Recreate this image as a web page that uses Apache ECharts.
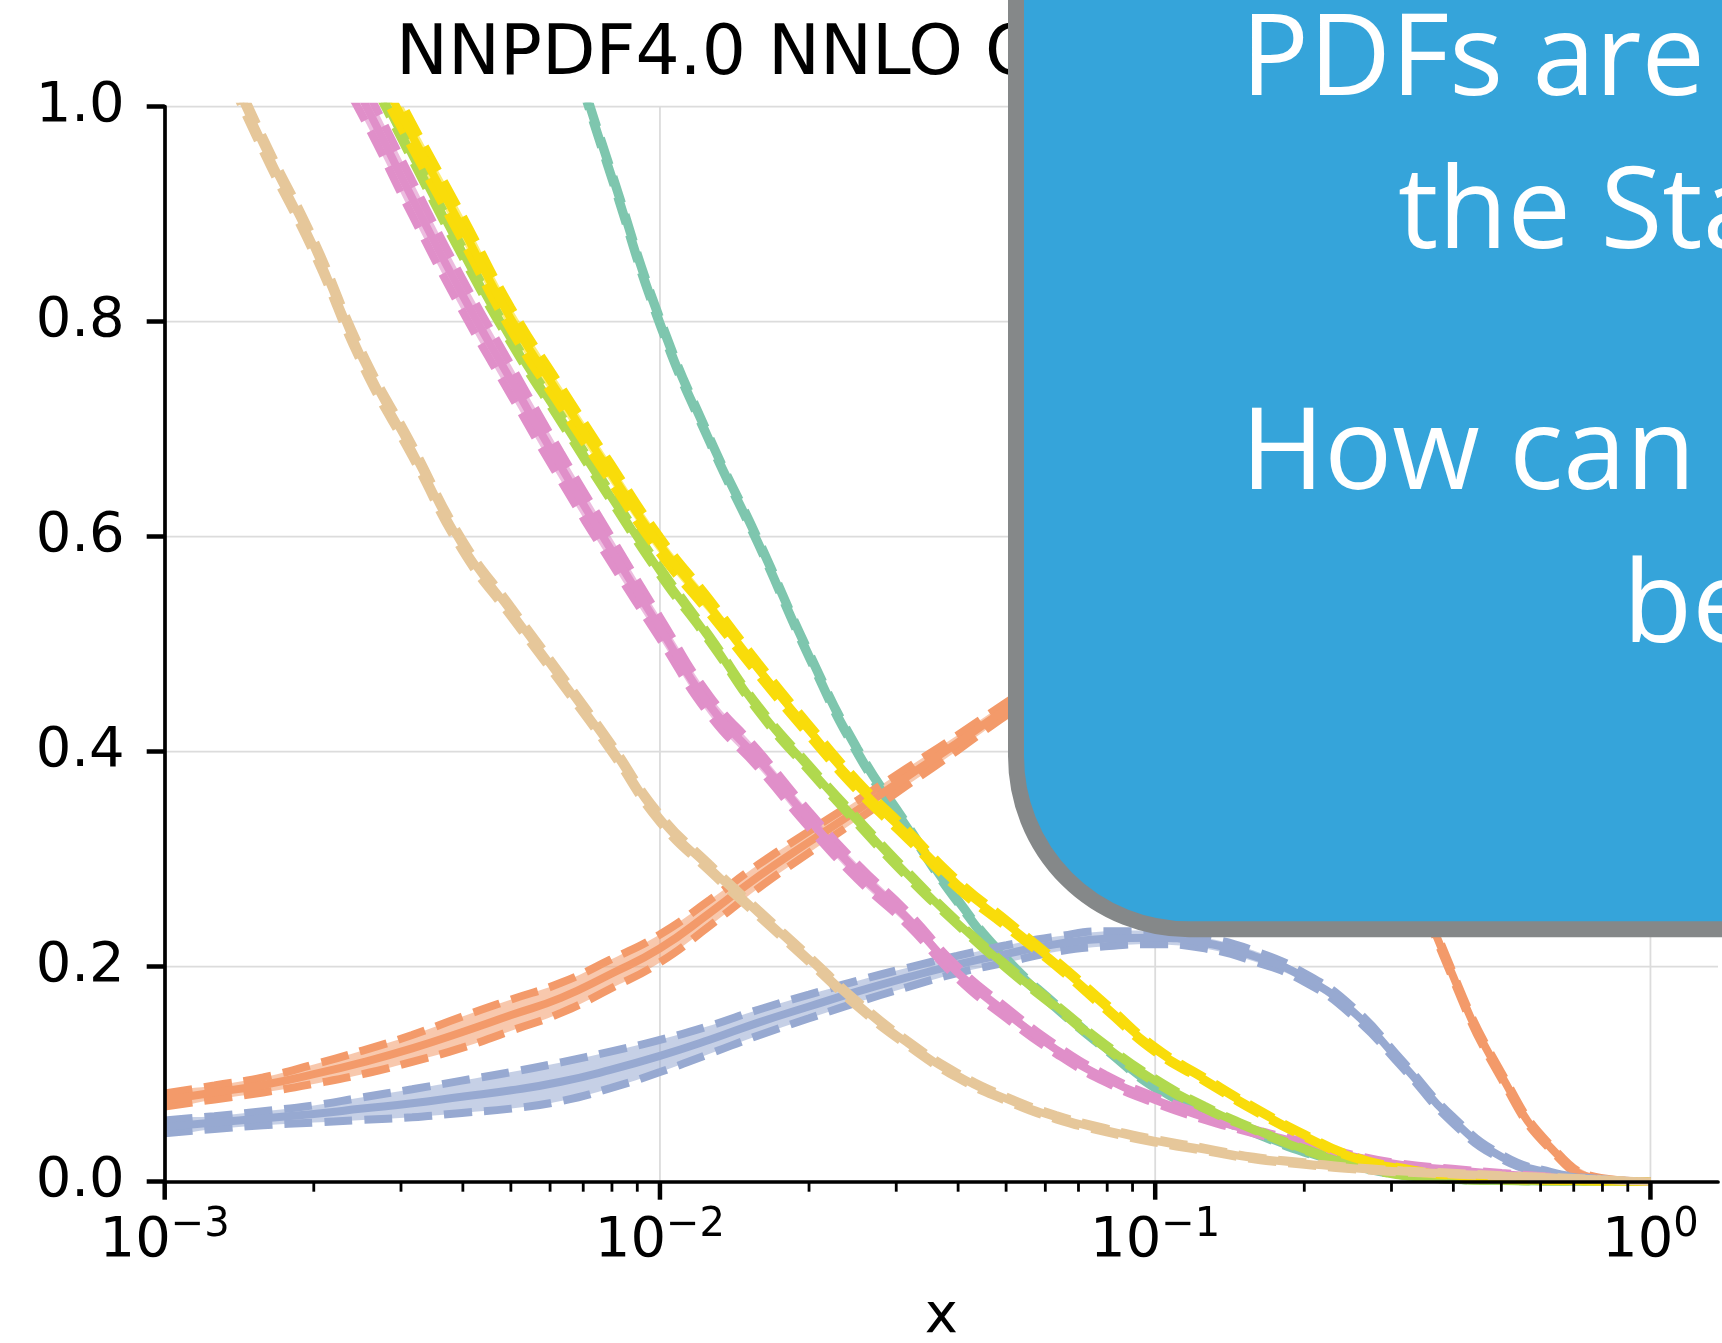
<!DOCTYPE html>
<html>
<head>
<meta charset="utf-8">
<script src="https://cdn.jsdelivr.net/npm/echarts@6.0.0/dist/echarts.min.js"></script>
<style>
html,body{margin:0;padding:0;background:#ffffff;}
#chart{width:1722px;height:1343px;}
</style>
</head>
<body>
<div id="chart"></div>
<script>
// ---------------- data ----------------
const xs = [0.001,0.00126,0.00158,0.002,0.00251,0.00316,0.00398,0.00501,0.00631,0.00794,
            0.01,0.0126,0.0158,0.02,0.0251,0.0316,0.0398,0.0501,0.0631,0.0794,
            0.1,0.126,0.158,0.2,0.251,0.316,0.398,0.501,0.631,0.794,1.0];

const tealC = [3.0,2.7,2.5,2.15,1.85,1.6,1.38,1.21,1.08,0.94,0.8,0.69,0.595,0.49,0.4,0.33,0.262,0.206,0.163,0.124,0.088,0.064,0.046,0.028,0.015,0.006,0.002,0.0008,0.0003,0.0001,0];
const tealE = [0.01,0.01,0.01,0.008,0.007,0.006,0.005,0.005,0.004,0.004,0.004,0.003,0.003,0.003,0.003,0.0025,0.002,0.002,0.002,0.0015,0.0015,0.001,0.001,0.001,0.0005,0.0003,0.0002,0.0001,0,0,0];

const orangeC = [0.076,0.083,0.090,0.100,0.111,0.124,0.139,0.155,0.171,0.193,0.217,0.25,0.284,0.316,0.346,0.377,0.408,0.44,0.47,0.5,0.53,0.555,0.57,0.56,0.5,0.32,0.193,0.098,0.031,0.0025,0];
const orangeE = [0.006,0.0065,0.007,0.009,0.011,0.0125,0.0145,0.0145,0.014,0.0135,0.013,0.012,0.011,0.01,0.009,0.008,0.007,0.006,0.006,0.005,0.005,0.005,0.005,0.005,0.004,0.004,0.003,0.003,0.002,0.001,0];

const blueC = [0.051,0.055,0.059,0.063,0.068,0.073,0.079,0.085,0.093,0.104,0.117,0.132,0.148,0.163,0.177,0.19,0.202,0.212,0.221,0.226,0.227,0.222,0.21,0.19,0.158,0.109,0.058,0.023,0.008,0.002,0];
const blueE = [0.006,0.006,0.0065,0.008,0.0105,0.013,0.015,0.017,0.018,0.017,0.015,0.013,0.012,0.011,0.01,0.009,0.008,0.008,0.007,0.007,0.006,0.005,0.005,0.004,0.004,0.003,0.003,0.002,0.001,0.0005,0];

const pinkC = [1.4,1.28,1.18,1.09,1.007,0.915,0.826,0.745,0.665,0.589,0.515,0.443,0.393,0.337,0.288,0.245,0.195,0.157,0.123,0.096,0.076,0.06,0.047,0.035,0.0235,0.0155,0.011,0.007,0.004,0.0015,0];
const pinkE = [0.02,0.019,0.018,0.017,0.016,0.016,0.015,0.014,0.013,0.012,0.01,0.009,0.008,0.0075,0.007,0.006,0.0055,0.005,0.004,0.0035,0.003,0.0025,0.002,0.002,0.0015,0.001,0.001,0.001,0.0005,0.0003,0];

const greenC = [1.42,1.32,1.22,1.13,1.045,0.955,0.866,0.783,0.71,0.638,0.568,0.505,0.44,0.385,0.335,0.286,0.241,0.2,0.163,0.126,0.094,0.069,0.049,0.03,0.016,0.006,0.002,0.0008,0.0003,0.0001,0];
const greenE = [0.006,0.006,0.006,0.005,0.005,0.005,0.005,0.004,0.004,0.004,0.004,0.003,0.003,0.003,0.003,0.003,0.002,0.002,0.002,0.002,0.002,0.0015,0.001,0.001,0.001,0.0005,0.0003,0.0002,0.0001,0,0];

const yellowC = [1.45,1.35,1.25,1.15,1.06,0.973,0.888,0.802,0.73,0.66,0.592,0.535,0.477,0.42,0.368,0.323,0.277,0.24,0.203,0.163,0.123,0.095,0.068,0.043,0.023,0.012,0.006,0.0025,0.001,0.0003,0];
const yellowE = [0.016,0.015,0.014,0.013,0.013,0.012,0.012,0.011,0.01,0.009,0.008,0.007,0.006,0.0055,0.005,0.0045,0.004,0.0035,0.003,0.003,0.0025,0.002,0.002,0.0015,0.001,0.001,0.0005,0.0003,0.0002,0.0001,0];

const tanC = [1.17,1.065,0.965,0.87,0.765,0.68,0.593,0.53,0.468,0.405,0.338,0.292,0.25,0.207,0.165,0.129,0.099,0.077,0.06,0.048,0.038,0.030,0.022,0.017,0.0125,0.0095,0.0075,0.0055,0.004,0.002,0];
const tanE = [0.008,0.0075,0.007,0.0068,0.0064,0.006,0.0055,0.005,0.0045,0.0042,0.004,0.0036,0.0032,0.003,0.0028,0.0025,0.0024,0.002,0.002,0.0018,0.0016,0.0015,0.0012,0.0012,0.001,0.001,0.0008,0.0005,0.0004,0.0002,0];

const xMajorTicks = [0.001,0.01,0.1,1];
const xMinorTicks = [0.002,0.003,0.004,0.005,0.006,0.007,0.008,0.009,
                     0.02,0.03,0.04,0.05,0.06,0.07,0.08,0.09,
                     0.2,0.3,0.4,0.5,0.6,0.7,0.8,0.9];
const yTicks = [0,0.2,0.4,0.6,0.8,1.0];

const titleText = 'NNPDF4.0 NNLO Q = 100 GeV';
const boxLines = ['PDFs are essential inputs for', 'the Standard Model', 'How can we', 'better constrain them?'];

// ---------------- chart ----------------
const X_MIN = 0.001, X_MAX = 1.369;
const FONT = '"DejaVu Sans", sans-serif';
const BOXFONT = '113px "Open Sans"';

const pdfs = [
  {c: tealC,   e: tealE,   color: '#7ec6ae', fill: 'rgba(126,198,174,0.55)'},
  {c: orangeC, e: orangeE, color: '#f39a6a', fill: 'rgba(243,154,106,0.55)'},
  {c: blueC,   e: blueE,   color: '#97a9d1', fill: 'rgba(151,169,209,0.55)'},
  {c: pinkC,   e: pinkE,   color: '#e08fc9', fill: 'rgba(224,143,201,0.6)'},
  {c: greenC,  e: greenE,  color: '#b0d94e', fill: 'rgba(176,217,78,0.55)'},
  {c: yellowC, e: yellowE, color: '#f9dc0a', fill: 'rgba(249,220,10,0.55)'},
  {c: tanC,    e: tanE,    color: '#e6c79a', fill: 'rgba(230,199,154,0.6)'}
];

const LW = 8;
const SMOOTH = 0.5;
const series = [];

// grid lines (drawn first, below curves)
series.push({
  type: 'custom', silent: true, clip: false, z: 1,
  data: xMajorTicks.map(v => [v, 0]),
  renderItem: (params, api) => {
    const p0 = api.coord([api.value(0), 0]);
    const p1 = api.coord([api.value(0), 1]);
    return {type: 'line', shape: {x1: p0[0], y1: p0[1], x2: p1[0], y2: p1[1]},
            style: {stroke: '#dcdcdc', lineWidth: 1.8}};
  }
});
series.push({
  type: 'custom', silent: true, clip: false, z: 1,
  data: yTicks.map(v => [X_MIN, v]),
  renderItem: (params, api) => {
    const p0 = api.coord([X_MIN, api.value(1)]);
    const p1 = api.coord([X_MAX, api.value(1)]);
    return {type: 'line', shape: {x1: p0[0], y1: p0[1], x2: p1[0], y2: p1[1]},
            style: {stroke: '#dcdcdc', lineWidth: 1.8}};
  }
});

pdfs.forEach((p) => {
  const upper = xs.map((x, i) => [x, p.c[i] + p.e[i]]);
  const lower = xs.map((x, i) => [x, Math.max(p.c[i] - p.e[i], 0)]);
  const central = xs.map((x, i) => [x, p.c[i]]);
  series.push({
    type: 'custom', silent: true, clip: true, z: 2,
    data: [[0.01, 0.5]],
    renderItem: (params, api) => {
      const pts = [];
      for (let i = 0; i < upper.length; i++) pts.push(api.coord(upper[i]));
      for (let i = lower.length - 1; i >= 0; i--) pts.push(api.coord(lower[i]));
      return {type: 'polygon', shape: {points: pts, smooth: 0.35},
              style: {fill: p.fill, stroke: null}};
    }
  });
  [upper, lower].forEach(d => series.push({
    type: 'line', data: d, smooth: SMOOTH, symbol: 'none', silent: true, z: 2,
    lineStyle: {color: p.color, width: LW, type: [28, 12], cap: 'butt'}
  }));
  series.push({
    type: 'line', data: central, smooth: SMOOTH, symbol: 'none', silent: true, z: 2,
    lineStyle: {color: p.color, width: LW, type: 'solid'}
  });
});

// x ticks (major + minor) drawn on top
series.push({
  type: 'custom', silent: true, clip: false, z: 20,
  data: xMajorTicks.map(v => [v, 0]),
  renderItem: (params, api) => {
    const p = api.coord([api.value(0), 0]);
    return {type: 'line', shape: {x1: p[0], y1: p[1], x2: p[0], y2: p[1] + 18},
            style: {stroke: '#000', lineWidth: 4.5}};
  }
});
series.push({
  type: 'custom', silent: true, clip: false, z: 20,
  data: xMinorTicks.map(v => [v, 0]),
  renderItem: (params, api) => {
    const p = api.coord([api.value(0), 0]);
    return {type: 'line', shape: {x1: p[0], y1: p[1], x2: p[0], y2: p[1] + 10},
            style: {stroke: '#000', lineWidth: 2.8}};
  }
});

const sup = e => (e < 0 ? '\u2212' + (-e) : '' + e);

const option = {
  animation: false,
  backgroundColor: '#ffffff',
  grid: {left: 164.7, right: 4, top: 106.7, bottom: 161.3, containLabel: false, outerBoundsMode: 'none'},
  xAxis: {
    type: 'log', logBase: 10, min: X_MIN, max: X_MAX, z: 10,
    axisLine: {show: true, lineStyle: {color: '#000', width: 3.7}},
    axisTick: {show: false},
    minorTick: {show: false},
    splitLine: {show: false},
    name: 'x', nameLocation: 'middle', nameGap: 108,
    nameTextStyle: {fontFamily: FONT, fontSize: 56, color: '#000', lineHeight: 56},
    axisLabel: {
      margin: 24,
      formatter: v => {
        const e = Math.round(Math.log10(v));
        if (Math.abs(Math.log10(v) - e) > 1e-6) return '';
        return '{a|10}{b|' + sup(e) + '}';
      },
      rich: {
        a: {fontFamily: FONT, fontSize: 56, lineHeight: 71, color: '#000'},
        b: {fontFamily: FONT, fontSize: 40, lineHeight: 40, color: '#000', verticalAlign: 'top'}
      }
    }
  },
  yAxis: {
    type: 'value', min: 0, max: 1, interval: 0.2, z: 10,
    axisLine: {show: true, lineStyle: {color: '#000', width: 3.7}},
    axisTick: {show: true, length: 18, lineStyle: {color: '#000', width: 4.5}},
    splitLine: {show: false},
    axisLabel: {
      margin: 40, fontFamily: FONT, fontSize: 56, color: '#000',
      formatter: v => v.toFixed(1)
    }
  },
  series: series,
  graphic: {
    elements: [
      {type: 'text', x: 396, y: 56, z: 50,
       style: {text: titleText, font: '69.5px "DejaVu Sans"', fill: '#000', align: 'left', verticalAlign: 'middle'}},
      {type: 'rect', z: 60,
       shape: {x: 1016, y: -400, width: 1300, height: 1329.3, r: 173},
       style: {fill: '#35a4da', stroke: '#858889', lineWidth: 16}},
      {type: 'text', x: 1241, y: 63, z: 70,
       style: {text: boxLines[0], font: BOXFONT, fill: '#ffffff', align: 'left', verticalAlign: 'middle'}},
      {type: 'text', x: 1398, y: 216, z: 70,
       style: {text: boxLines[1], font: BOXFONT, fill: '#ffffff', align: 'left', verticalAlign: 'middle'}},
      {type: 'text', x: 1241, y: 457, z: 70,
       style: {text: boxLines[2], font: BOXFONT, fill: '#ffffff', align: 'left', verticalAlign: 'middle'}},
      {type: 'text', x: 1623, y: 610, z: 70,
       style: {text: boxLines[3], font: BOXFONT, fill: '#ffffff', align: 'left', verticalAlign: 'middle'}}
    ]
  }
};

const chart = echarts.init(document.getElementById('chart'), null, {renderer: 'canvas', width: 1722, height: 1343});
chart.setOption(option);
</script>
</body>
</html>
